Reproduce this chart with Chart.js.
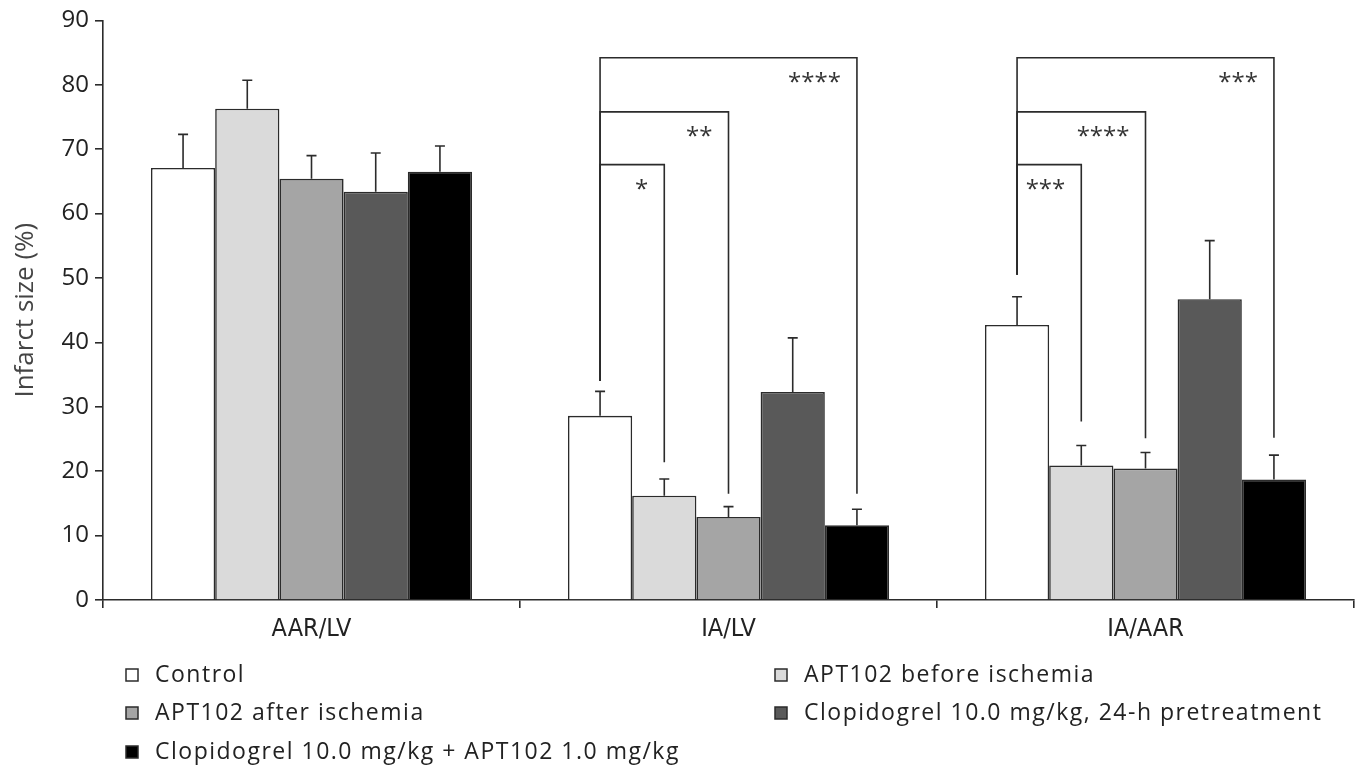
<!DOCTYPE html>
<html lang="en">
<head>
  <meta charset="UTF-8" />
  <title>Infarct size</title>
  <script src="https://cdn.jsdelivr.net/npm/chart.js"></script>
  <style>
    body { margin: 0; background: #fff; }
    #wrap { width: 1360px; height: 768px; }
  </style>
</head>
<body>
  <div id="wrap"><canvas id="infarctChart" width="1360" height="768"></canvas></div>

  <script>
    const categories = ['AAR/LV', 'IA/LV', 'IA/AAR'];
    const groups = ['Control', 'APT102 before ischemia', 'APT102 after ischemia',
      'Clopidogrel 10.0 mg/kg, 24-h pretreatment', 'Clopidogrel 10.0 mg/kg + APT102 1.0 mg/kg'];

    // mean values (%) per category
    const control   = [67.1, 28.6, 42.7];
    const before    = [76.3, 16.2, 20.9];
    const after     = [65.4, 12.9, 20.4];
    const clopi     = [63.4, 32.3, 46.7];
    const combo     = [66.5, 11.6, 18.7];

    // error (upper bar only)
    const controlErr = [5.2, 3.8, 4.4];
    const beforeErr  = [4.4, 2.6, 3.1];
    const afterErr   = [3.6, 1.6, 2.5];
    const clopiErr   = [6.0, 8.4, 9.1];
    const comboErr   = [4.0, 2.5, 3.8];

    const colors = ['#ffffff', '#dadada', '#a5a5a5', '#595959', '#000000'];
    const yTicks = [0, 10, 20, 30, 40, 50, 60, 70, 80, 90];

    // significance brackets: category, groups compared, bracket level, end heights
    const bracketCat    = [1, 1, 1, 2, 2, 2];
    const bracketTo     = [1, 2, 4, 1, 2, 4];
    const bracketLevel  = [67.6, 75.8, 84.2, 67.6, 75.8, 84.2];
    const bracketEnd    = [21.4, 16.5, 16.5, 27.7, 25.1, 25.2];
    const bracketStart  = [34.0, 34.0, 34.0, 50.5, 50.5, 50.5];
    const bracketLabel  = ['*', '**', '****', '***', '****', '***'];

    const means = [control, before, after, clopi, combo];
    const errs = [controlErr, beforeErr, afterErr, clopiErr, comboErr];
    const ink = '#2b2b2b';
    const FONT = "'Open Sans', sans-serif";
    const NARROW = "'DejaVu Sans Condensed', 'Liberation Sans Narrow', 'Open Sans', sans-serif";

    const errorBars = {
      id: 'errorBars',
      afterDatasetsDraw(chart) {
        const ctx = chart.ctx;
        const y = chart.scales.y;
        ctx.save();
        ctx.strokeStyle = ink;
        ctx.lineWidth = 1.6;
        chart.data.datasets.forEach((ds, i) => {
          const meta = chart.getDatasetMeta(i);
          meta.data.forEach((bar, j) => {
            const top = y.getPixelForValue(ds.data[j]);
            const hi = y.getPixelForValue(ds.data[j] + errs[i][j]);
            ctx.beginPath();
            ctx.moveTo(bar.x, top);
            ctx.lineTo(bar.x, hi);
            ctx.moveTo(bar.x - 5, hi);
            ctx.lineTo(bar.x + 5, hi);
            ctx.stroke();
          });
        });
        ctx.restore();
      }
    };

    const brackets = {
      id: 'brackets',
      afterDatasetsDraw(chart) {
        const ctx = chart.ctx;
        const y = chart.scales.y;
        ctx.save();
        ctx.strokeStyle = ink;
        ctx.lineWidth = 1.6;
        ctx.fillStyle = '#333';
        ctx.font = '24px ' + FONT;
        ctx.textAlign = 'right';
        ctx.textBaseline = 'alphabetic';
        bracketCat.forEach((c, k) => {
          const x0 = chart.getDatasetMeta(0).data[c].x;
          const x1 = chart.getDatasetMeta(bracketTo[k]).data[c].x;
          const yl = y.getPixelForValue(bracketLevel[k]);
          ctx.beginPath();
          ctx.moveTo(x0, y.getPixelForValue(bracketStart[k]));
          ctx.lineTo(x0, yl);
          ctx.lineTo(x1, yl);
          ctx.lineTo(x1, y.getPixelForValue(bracketEnd[k]));
          ctx.stroke();
          ctx.fillText(bracketLabel[k], x1 - 16, yl + 32);
        });
        ctx.restore();
      }
    };

    const bottomLegend = {
      id: 'bottomLegend',
      afterDraw(chart) {
        const ctx = chart.ctx;
        const cols = [126, 775];
        const rows = [675, 713, 752];
        ctx.save();
        ctx.font = '23px ' + FONT;
        ctx.letterSpacing = '1.5px';
        ctx.textBaseline = 'middle';
        chart.data.datasets.forEach((ds, i) => {
          const x = cols[i % 2];
          const yc = rows[Math.floor(i / 2)];
          ctx.fillStyle = ds.backgroundColor;
          ctx.fillRect(x, yc - 6, 12, 12);
          ctx.strokeStyle = ink;
          ctx.lineWidth = 1.5;
          ctx.strokeRect(x, yc - 6, 12, 12);
          ctx.fillStyle = '#222';
          ctx.fillText(ds.label, x + 29, yc);
        });
        ctx.restore();
      }
    };

    new Chart(document.getElementById('infarctChart'), {
      type: 'bar',
      data: {
        labels: categories,
        datasets: groups.map((g, i) => ({
          label: g,
          data: means[i],
          backgroundColor: colors[i],
          borderColor: ink,
          borderWidth: 1.6,
          categoryPercentage: 0.77,
          barPercentage: 1.0
        }))
      },
      options: {
        responsive: false,
        animation: false,
        devicePixelRatio: 1,
        layout: { padding: { top: 18, right: 6, left: 0, bottom: 0 } },
        plugins: { legend: { display: false }, tooltip: { enabled: false } },
        scales: {
          x: {
            grid: { offset: true, drawOnChartArea: false, tickLength: 8, color: ink, lineWidth: 1.6 },
            border: { color: ink, width: 1.6 },
            ticks: { font: { family: NARROW, size: 25 }, color: '#222', padding: 6 },
            afterFit(s) { s.height = 168; }
          },
          y: {
            min: 0,
            max: 90,
            afterBuildTicks(s) { s.ticks = yTicks.map(v => ({ value: v })); },
            grid: { drawOnChartArea: false, tickLength: 8, color: ink, lineWidth: 1.6 },
            border: { color: ink, width: 1.6 },
            ticks: { font: { family: FONT, size: 24 }, color: '#222', padding: 6 },
            title: {
              display: true,
              text: 'Infarct size (%)',
              font: { family: FONT, size: 26 },
              color: '#444',
              padding: { top: 10, bottom: 0 }
            },
            afterFit(s) { s.width = 103; }
          }
        }
      },
      plugins: [errorBars, brackets, bottomLegend]
    });
  </script>
</body>
</html>
